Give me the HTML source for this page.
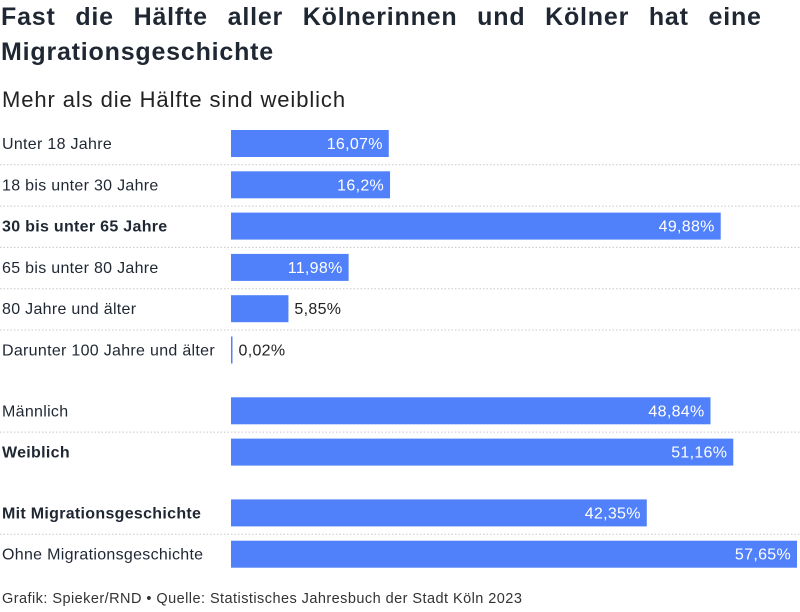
<!DOCTYPE html>
<html><head><meta charset="utf-8"><style>
body{margin:0;background:#fff;font-family:"Liberation Sans",sans-serif;color:#1f2733}
#wrap{position:relative;width:800px;height:612px;overflow:hidden}
h1{position:absolute;left:1px;top:0;margin:0;font-size:25px;line-height:35px;font-weight:bold;color:#1f2733;letter-spacing:0.8px;word-spacing:12px}
h2{position:absolute;left:2px;top:87px;margin:0;font-size:22px;font-weight:normal;color:#222;letter-spacing:0.9px}
#foot{position:absolute;left:2px;top:591px;font-size:14.5px;color:#333;letter-spacing:0.45px}
svg{position:absolute;left:0;top:0}
</style></head><body><div id="wrap">
<h1>Fast die Hälfte aller Kölnerinnen und Kölner hat eine<br>Migrationsgeschichte</h1>
<h2>Mehr als die Hälfte sind weiblich</h2>
<svg id="svg" width="800" height="612"></svg>
<div id="foot">Grafik: Spieker/RND • Quelle: Statistisches Jahresbuch der Stadt Köln 2023</div>
</div>
<script>
const categories=["Unter 18 Jahre","18 bis unter 30 Jahre","30 bis unter 65 Jahre","65 bis unter 80 Jahre","80 Jahre und älter","Darunter 100 Jahre und älter","Männlich","Weiblich","Mit Migrationsgeschichte","Ohne Migrationsgeschichte"];
const values=[16.07,16.2,49.88,11.98,5.85,0.02,48.84,51.16,42.35,57.65];
const labels=["16,07%","16,2%","49,88%","11,98%","5,85%","0,02%","48,84%","51,16%","42,35%","57,65%"];
const bold=[false,false,true,false,false,false,false,true,true,false];
const groups=[0,0,0,0,0,0,1,1,2,2];
const ns="http://www.w3.org/2000/svg",svg=document.getElementById("svg");
const x0=231,scale=(797-231)/57.65;
function x(v){return x0+v*scale;}
const rowH=41.3,gapH=19.5,barH=27,top0=130;
function yOf(i){let y=top0+i*rowH;for(let k=1;k<=i;k++){if(groups[k]!==groups[k-1])y+=gapH;}return y;}
function mk(t,a){const e=document.createElementNS(ns,t);for(const k in a)e.setAttribute(k,a[k]);svg.appendChild(e);return e;}
categories.forEach((c,i)=>{
 const y=yOf(i);
 if(i>0&&groups[i]===groups[i-1]){
  const l=mk("line",{x1:0,x2:800,y1:y-6.5,y2:y-6.5,stroke:"#c8c8c8","stroke-dasharray":"1.5,2"});
  
  
 }
 const t=mk("text",{x:2,y:y+barH/2+5.5,"font-size":"16","letter-spacing":"0.3","font-weight":bold[i]?"bold":"normal",fill:"#1f2733"});
 t.textContent=c;
 
 
 const w=Math.max(x(values[i])-x0,1.5);
 const r=mk("rect",{x:x0,y:y,width:w,height:barH,fill:"#5080fa"});
 
 
 const inside=w>70;
 const v=mk("text",{x:inside?x0+w-6:x0+w+6,y:y+barH/2+5.5,"font-size":"16","letter-spacing":"0.3","text-anchor":inside?"end":"start",fill:inside?"#fff":"#222"});
 v.textContent=labels[i];
 
 
});
</script></body></html>
